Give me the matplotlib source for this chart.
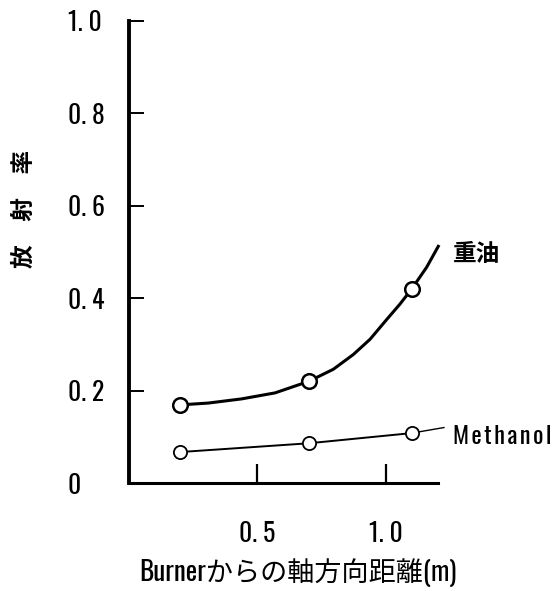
import matplotlib
matplotlib.use("Agg")
import matplotlib.pyplot as plt

COND = ['Oswald', 'Roboto Condensed', 'DejaVu Sans']
JP = 'Noto Sans CJK JP'
plt.rcParams['font.family'] = COND[:1] + [JP] + COND[1:]

# ---- data ----
oil_x = [0.2, 0.7, 1.1]
oil_y = [0.169, 0.220, 0.420]
oil_curve_x = [0.2, 0.310, 0.439, 0.569, 0.7, 0.795, 0.873, 0.938, 1.003, 1.054, 1.1, 1.158, 1.203]
oil_curve_y = [0.169, 0.173, 0.182, 0.195, 0.220, 0.246, 0.278, 0.311, 0.354, 0.387, 0.420, 0.467, 0.512]

meth_x = [0.2, 0.7, 1.1]
meth_y = [0.067, 0.086, 0.108]

yticks = [0, 0.2, 0.4, 0.6, 0.8, 1.0]
yticklabels = ["0", "0. 2", "0. 4", "0. 6", "0. 8", "1. 0"]
xticks = [0.5, 1.0]
xticklabels = ["0. 5", "1. 0"]

fig = plt.figure(figsize=(5.52, 5.91), dpi=100)
ax = fig.add_axes([0.233, 0.1827, 0.5596, 0.7822])

ax.plot(oil_curve_x, oil_curve_y, color='black', lw=2.2, zorder=2, clip_on=False,
        solid_joinstyle='round')
ax.plot(oil_x, oil_y, 'o', ms=10.5, mfc='white', mec='black', mew=1.8, zorder=3, clip_on=False)

ax.plot(meth_x, meth_y, color='black', lw=1.4, zorder=2, clip_on=False)
ax.plot(meth_x, meth_y, 'o', ms=9.5, mfc='white', mec='black', mew=1.3, zorder=3, clip_on=False)
# leader line to the Methanol label
ax.plot([1.1, 1.225], [0.108, 0.120], color='black', lw=1.0, zorder=1, clip_on=False)

ax.text(1.26, 0.496, "重油", family=[JP], fontsize=17, weight='bold', ha='left', va='center', clip_on=False)
ax.text(1.26, 0.100, "\u200a".join("Methanol"), fontsize=17.5, ha='left', va='center', clip_on=False)

ax.set_xlim(0, 1.2)
ax.set_ylim(0, 1.0)
for s in ['top', 'right']:
    ax.spines[s].set_visible(False)
ax.spines['left'].set_linewidth(2.8)
ax.spines['bottom'].set_linewidth(2.2)

ax.set_yticks(yticks)
ax.set_yticklabels(yticklabels, fontsize=18.5)
ax.set_xticks(xticks)
ax.set_xticklabels(xticklabels, fontsize=18.5)
ax.tick_params(axis='y', direction='in', length=10.8, width=1.4, pad=44)
ax.tick_params(axis='x', direction='in', length=13.7, width=1.6, pad=27)
for lab in ax.get_yticklabels():
    lab.set_horizontalalignment('left')

fig.text(24 / 552, 1 - 209 / 591, "放　射　率", family=[JP], fontsize=17, weight='bold',
         rotation=90, ha='center', va='center')
fig.text(298 / 552, 1 - 573 / 591, "Burnerからの軸方向距離(m)", fontsize=19.5,
         ha='center', va='center')

fig.savefig("out.png", dpi=100)
